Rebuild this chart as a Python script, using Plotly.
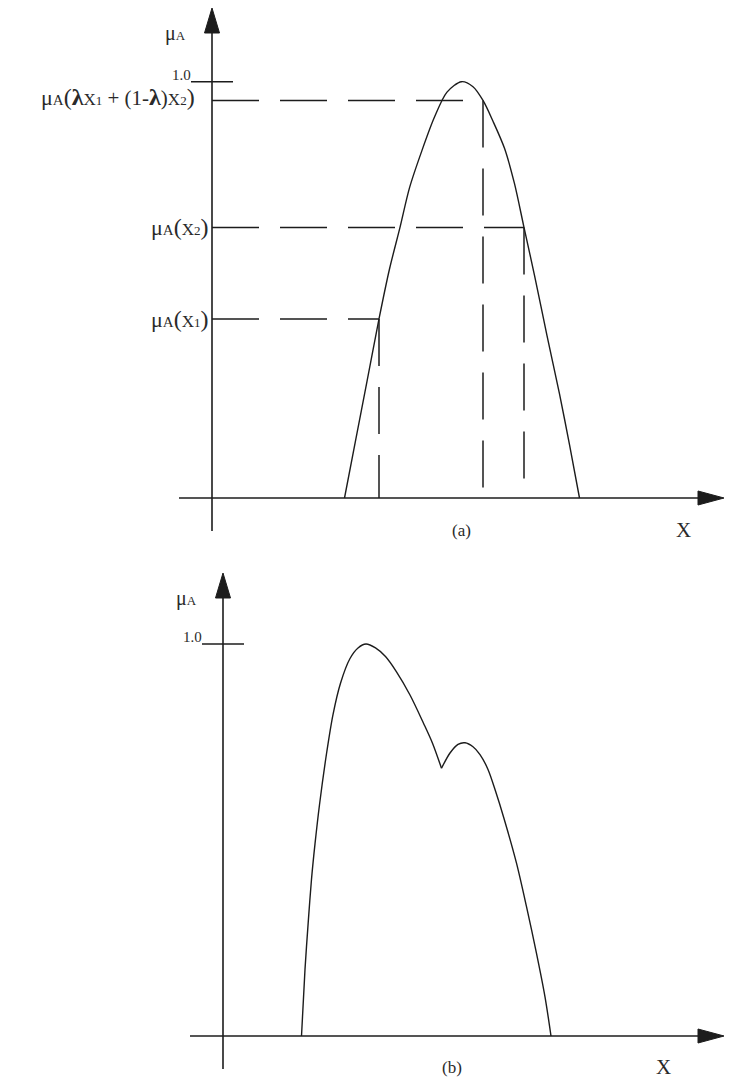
import plotly.graph_objects as go

W, H = 733, 1080
X_PX = 50.0          # pixels per unit along X
INK = "#1c1c1c"
TXT = "#2a2a2a"
SERIF = "Liberation Serif"

# ---------------- panel (a): convex fuzzy set ----------------
A_OX, A_OY, A_MPX = 212, 498, 416.3      # origin (px) and px per unit of membership
a_x = [2.65, 2.87, 3.10, 3.34, 3.55, 3.76, 3.95, 4.20, 4.45, 4.70, 4.99,
       5.22, 5.42, 5.62, 5.85, 6.05, 6.24, 6.45, 6.70, 6.95, 7.15, 7.35]
a_mu = [0.0, 0.137, 0.28, 0.43, 0.55, 0.65, 0.745, 0.835, 0.915, 0.975, 1.0,
        0.988, 0.955, 0.905, 0.84, 0.755, 0.65, 0.535, 0.39, 0.25, 0.128, 0.0]

# x1, x2 and the convex combination lambda*x1 + (1-lambda)*x2
a_guide_x = [3.34, 6.24, 5.42]
a_guide_mu = [0.43, 0.65, 0.955]

# ---------------- panel (b): non-convex fuzzy set ----------------
B_OX, B_OY, B_MPX = 223, 1036, 392.0
b_x = [1.57, 1.64, 1.71, 1.77, 1.84, 1.93, 2.07, 2.20, 2.35, 2.54, 2.70, 2.86,
       3.05, 3.25, 3.47, 3.74, 4.01, 4.19, 4.37, 4.54, 4.70, 4.84, 5.00, 5.14,
       5.30, 5.45, 5.62, 5.87, 6.07, 6.27, 6.44, 6.56]
b_mu = [0.0, 0.17, 0.30, 0.40, 0.49, 0.59, 0.72, 0.82, 0.90, 0.963, 0.99, 1.0,
        0.99, 0.968, 0.929, 0.87, 0.798, 0.747, 0.683, 0.722, 0.744, 0.748, 0.738,
        0.718, 0.68, 0.625, 0.555, 0.441, 0.33, 0.211, 0.10, 0.0]

peak_label = "1.0"


def sp(size, s):
    return f"<span style='font-size:{size}px'>{s}</span>"


def xsub(n):
    return sp(17, "X") + sp(13, n)


def mu_of(arg):
    return sp(22, "μ") + sp(15, "A") + sp(24, "(") + arg + sp(24, ")")


a_guide_text = [
    mu_of(xsub("1")),
    mu_of(xsub("2")),
    mu_of(sp(24, "<b>λ</b>") + xsub("1") + sp(21, " + (1-") + sp(24, "<b>λ</b>")
          + sp(21, ")") + xsub("2")),
]
axis_mu_label = sp(20, "μ") + sp(13, "A")

fig = go.Figure()


def px_x(px, ox):
    return (px - ox) / X_PX


def px_mu(py, oy, m):
    return (oy - py) / m


def line(xs, ys, xa, ya, width=1.4, dash=None):
    fig.add_trace(go.Scatter(x=xs, y=ys, mode="lines", xaxis=xa, yaxis=ya,
                             line=dict(color=INK, width=width, dash=dash),
                             hoverinfo="skip"))


def curve(xs, ys, xa, ya):
    fig.add_trace(go.Scatter(x=xs, y=ys, mode="lines", xaxis=xa, yaxis=ya,
                             line=dict(color=INK, width=1.4, shape="spline", smoothing=0.85),
                             hoverinfo="skip"))


def tri(xs, ys, xa, ya):
    fig.add_trace(go.Scatter(x=xs, y=ys, mode="lines", fill="toself",
                             fillcolor=INK, xaxis=xa, yaxis=ya,
                             line=dict(color=INK, width=1), hoverinfo="skip"))


def axes_frame(ox, oy, m, xa, ya, y_tip_px, x_tip_px, x_start_px, y_end_px):
    # vertical axis with arrowhead
    line([0, 0], [px_mu(y_end_px, oy, m), px_mu(y_tip_px + 20, oy, m)], xa, ya, 1.6)
    tri([0, -7.5 / X_PX, 7.5 / X_PX, 0],
        [px_mu(y_tip_px, oy, m), px_mu(y_tip_px + 25, oy, m),
         px_mu(y_tip_px + 25, oy, m), px_mu(y_tip_px, oy, m)], xa, ya)
    # horizontal axis with arrowhead
    line([px_x(x_start_px, ox), px_x(x_tip_px - 20, ox)], [0, 0], xa, ya, 1.6)
    tri([px_x(x_tip_px, ox), px_x(x_tip_px - 26, ox), px_x(x_tip_px - 26, ox),
         px_x(x_tip_px, ox)],
        [0, 7 / m, -7 / m, 0], xa, ya)
    # tick at membership 1.0
    line([px_x(ox - 21, ox), px_x(ox + 21, ox)], [1.0, 1.0], xa, ya, 1.4)


# panel (a)
axes_frame(A_OX, A_OY, A_MPX, "x", "y", 8, 724, 179, 531)
curve(a_x, a_mu, "x", "y")
DASH = "47px,21px"
for gx, gm in zip(a_guide_x, a_guide_mu):
    line([0, gx], [gm, gm], "x", "y", 1.5, DASH)
    line([gx, gx], [gm, 0], "x", "y", 1.5, DASH)

# panel (b): the curve has a cusp at its dip, so it is drawn as two smooth pieces
axes_frame(B_OX, B_OY, B_MPX, "x2", "y2", 573, 724, 190, 1069)
i_dip = next(i for i in range(1, len(b_mu) - 1)
             if b_mu[i - 1] > b_mu[i] < b_mu[i + 1])
curve(b_x[:i_dip + 1], b_mu[:i_dip + 1], "x2", "y2")
curve(b_x[i_dip:], b_mu[i_dip:], "x2", "y2")

ann = []


def text(x, y, s, xa, ya, xanchor="center", yanchor="middle", xshift=0, yshift=0, size=16):
    ann.append(dict(x=x, y=y, xref=xa, yref=ya, text=s, showarrow=False,
                    xanchor=xanchor, yanchor=yanchor, xshift=xshift, yshift=yshift,
                    font=dict(family=SERIF, size=size, color=TXT)))


# labels panel (a)
text(0, px_mu(33, A_OY, A_MPX), axis_mu_label, "x", "y", "right", "middle", -24)
text(-0.42, 1.0, peak_label, "x", "y", "right", "bottom", 2, -3, 15)
for k, (gm, s) in enumerate(zip(a_guide_mu, a_guide_text)):
    shift = -15 if k == 2 else -2
    text(0, gm, s, "x", "y", "right", "middle", shift, 3 if k == 2 else 0)
text(px_x(461, A_OX), px_mu(530, A_OY, A_MPX), "(a)", "x", "y", size=17)
text(px_x(683, A_OX), px_mu(530, A_OY, A_MPX), "X", "x", "y", size=21)

# labels panel (b)
text(0, px_mu(598, B_OY, B_MPX), axis_mu_label, "x2", "y2", "right", "middle", -24)
text(-0.42, 1.0, peak_label, "x2", "y2", "right", "bottom", 2, -3, 15)
text(px_x(452, B_OX), px_mu(1067, B_OY, B_MPX), "(b)", "x2", "y2", size=17)
text(px_x(663, B_OX), px_mu(1067, B_OY, B_MPX), "X", "x2", "y2", size=21)


def xr(ox):
    return [-ox / X_PX, (W - ox) / X_PX]


def yr(oy, m):
    return [(oy - H) / m, oy / m]


hidden = dict(visible=False, showgrid=False, zeroline=False, fixedrange=True)
fig.update_layout(
    width=W, height=H, margin=dict(l=0, r=0, t=0, b=0),
    paper_bgcolor="white", plot_bgcolor="white", showlegend=False,
    xaxis=dict(domain=[0, 1], range=xr(A_OX), anchor="y", **hidden),
    yaxis=dict(domain=[0, 1], range=yr(A_OY, A_MPX), anchor="x", **hidden),
    xaxis2=dict(domain=[0, 1], range=xr(B_OX), anchor="y2", overlaying="x", **hidden),
    yaxis2=dict(domain=[0, 1], range=yr(B_OY, B_MPX), anchor="x2", overlaying="y", **hidden),
    annotations=ann,
)

fig.write_html("out.html")
